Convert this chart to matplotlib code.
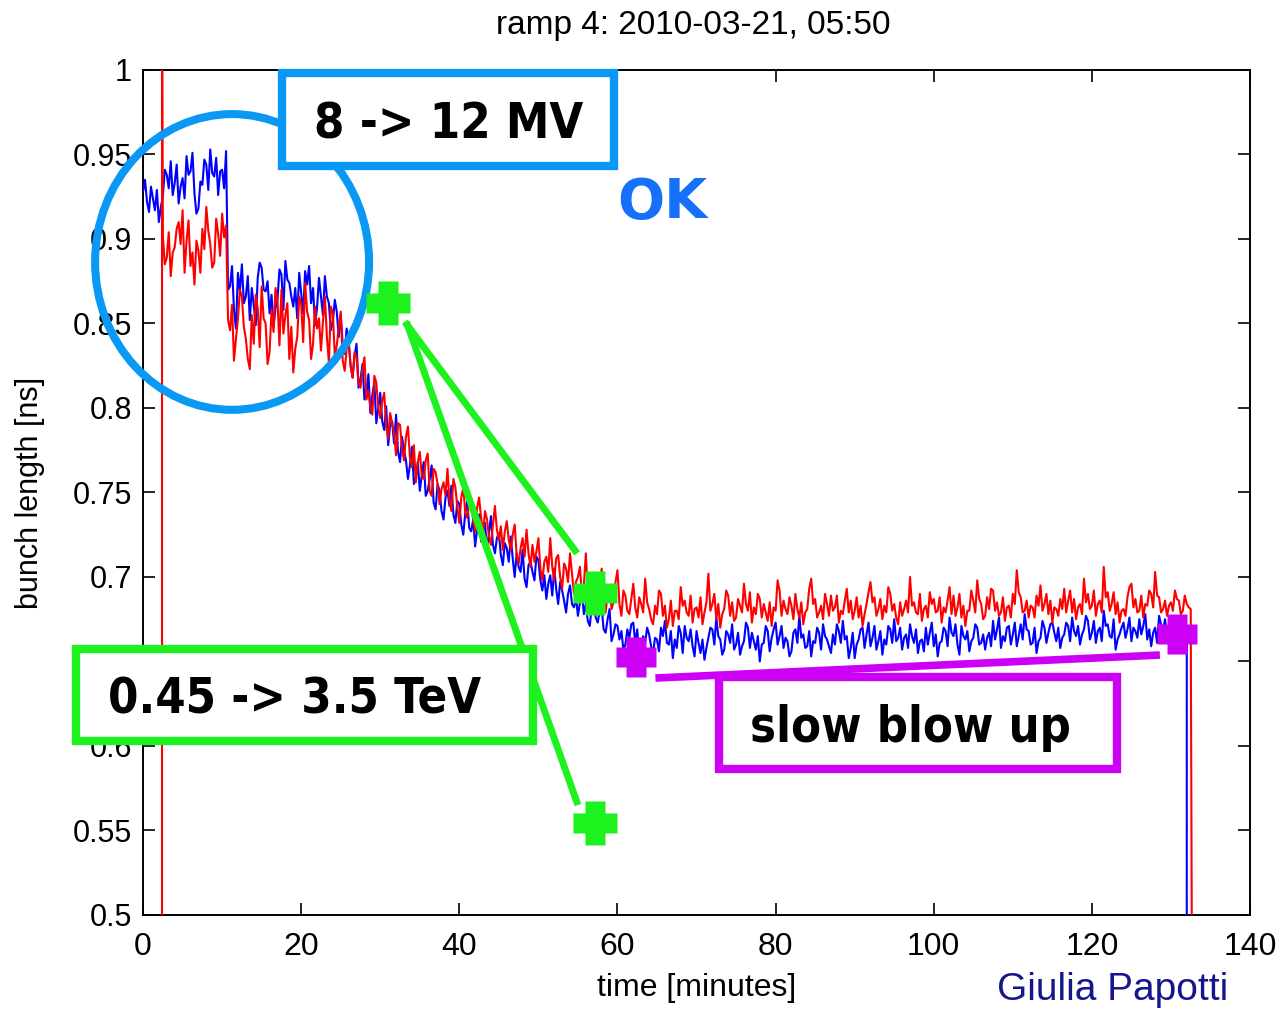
import numpy as np
import matplotlib
matplotlib.use('Agg')
import matplotlib.pyplot as plt
from matplotlib.patches import Ellipse, Rectangle
from matplotlib.path import Path

#---------------------------------------------------------------------
# bunch length during ramp 4, beam 1 (blue) and beam 2 (red)
# one sample every 15 s, 20 samples (5 min) per row
#---------------------------------------------------------------------
dt = 0.25
blue_t0 = 0.0
red_t0 = 2.5

blue_len = [
    0.928, 0.935, 0.922, 0.916, 0.931, 0.924, 0.917, 0.929, 0.910, 0.919, 0.925, 0.941, 0.938, 0.930, 0.946, 0.926, 0.933, 0.944, 0.921, 0.931,
    0.936, 0.924, 0.949, 0.938, 0.940, 0.951, 0.927, 0.915, 0.918, 0.934, 0.932, 0.947, 0.944, 0.929, 0.953, 0.939, 0.937, 0.948, 0.926, 0.940,
    0.941, 0.930, 0.952, 0.870, 0.872, 0.884, 0.858, 0.847, 0.880, 0.869, 0.885, 0.862, 0.866, 0.878, 0.852, 0.871, 0.861, 0.849, 0.877, 0.886,
    0.883, 0.870, 0.869, 0.875, 0.856, 0.867, 0.848, 0.859, 0.864, 0.882, 0.879, 0.858, 0.887, 0.876, 0.874, 0.866, 0.860, 0.871, 0.853, 0.880,
    0.868, 0.856, 0.881, 0.873, 0.884, 0.862, 0.871, 0.849, 0.859, 0.877, 0.866, 0.855, 0.878, 0.866, 0.862, 0.846, 0.851, 0.864, 0.857, 0.842,
    0.855, 0.838, 0.832, 0.847, 0.839, 0.825, 0.818, 0.831, 0.838, 0.812, 0.817, 0.826, 0.805, 0.808, 0.820, 0.797, 0.808, 0.815, 0.791, 0.800,
    0.809, 0.792, 0.787, 0.801, 0.778, 0.790, 0.792, 0.779, 0.796, 0.774, 0.768, 0.783, 0.775, 0.769, 0.758, 0.766, 0.777, 0.755, 0.759, 0.768,
    0.751, 0.760, 0.768, 0.748, 0.751, 0.758, 0.766, 0.744, 0.740, 0.755, 0.751, 0.739, 0.734, 0.747, 0.751, 0.742, 0.754, 0.737, 0.732, 0.745,
    0.743, 0.731, 0.725, 0.738, 0.745, 0.729, 0.727, 0.734, 0.718, 0.728, 0.737, 0.721, 0.727, 0.732, 0.715, 0.726, 0.736, 0.719, 0.714, 0.723,
    0.726, 0.713, 0.707, 0.720, 0.717, 0.709, 0.724, 0.711, 0.700, 0.714, 0.706, 0.703, 0.716, 0.699, 0.694, 0.707, 0.709, 0.703, 0.698, 0.712,
    0.710, 0.698, 0.692, 0.701, 0.687, 0.696, 0.701, 0.689, 0.705, 0.693, 0.684, 0.697, 0.692, 0.686, 0.679, 0.690, 0.695, 0.684, 0.682, 0.688,
    0.677, 0.685, 0.691, 0.678, 0.684, 0.674, 0.671, 0.683, 0.689, 0.676, 0.673, 0.680, 0.682, 0.669, 0.667, 0.675, 0.681, 0.662, 0.666, 0.672,
    0.671, 0.663, 0.668, 0.657, 0.660, 0.669, 0.664, 0.672, 0.673, 0.661, 0.669, 0.654, 0.657, 0.665, 0.661, 0.670, 0.666, 0.659, 0.655, 0.664,
    0.663, 0.656, 0.670, 0.665, 0.674, 0.661, 0.660, 0.668, 0.652, 0.663, 0.658, 0.671, 0.667, 0.655, 0.671, 0.664, 0.662, 0.669, 0.659, 0.653,
    0.668, 0.661, 0.655, 0.663, 0.651, 0.658, 0.664, 0.670, 0.669, 0.660, 0.676, 0.665, 0.663, 0.654, 0.657, 0.668, 0.666, 0.661, 0.672, 0.657,
    0.660, 0.667, 0.654, 0.659, 0.662, 0.673, 0.670, 0.658, 0.667, 0.662, 0.657, 0.665, 0.650, 0.660, 0.661, 0.671, 0.668, 0.656, 0.664, 0.669,
    0.673, 0.660, 0.665, 0.671, 0.658, 0.664, 0.662, 0.653, 0.656, 0.667, 0.669, 0.661, 0.677, 0.664, 0.666, 0.658, 0.659, 0.668, 0.653, 0.662,
    0.661, 0.670, 0.667, 0.657, 0.672, 0.665, 0.663, 0.659, 0.655, 0.666, 0.660, 0.672, 0.668, 0.661, 0.674, 0.663, 0.665, 0.652, 0.658, 0.667,
    0.652, 0.660, 0.663, 0.669, 0.670, 0.658, 0.666, 0.673, 0.659, 0.664, 0.671, 0.657, 0.662, 0.668, 0.654, 0.663, 0.660, 0.671, 0.669, 0.661,
    0.675, 0.662, 0.664, 0.670, 0.657, 0.664, 0.666, 0.658, 0.672, 0.665, 0.661, 0.669, 0.655, 0.662, 0.663, 0.656, 0.670, 0.660, 0.667, 0.673,
    0.659, 0.666, 0.653, 0.661, 0.662, 0.670, 0.668, 0.659, 0.676, 0.667, 0.665, 0.672, 0.660, 0.654, 0.671, 0.665, 0.663, 0.668, 0.656, 0.662,
    0.664, 0.672, 0.670, 0.660, 0.661, 0.666, 0.657, 0.664, 0.667, 0.659, 0.674, 0.663, 0.669, 0.676, 0.658, 0.665, 0.662, 0.670, 0.671, 0.660,
    0.666, 0.673, 0.659, 0.665, 0.672, 0.663, 0.678, 0.669, 0.668, 0.660, 0.661, 0.670, 0.655, 0.662, 0.664, 0.674, 0.670, 0.661, 0.667, 0.672,
    0.673, 0.667, 0.662, 0.670, 0.658, 0.664, 0.666, 0.673, 0.671, 0.662, 0.676, 0.668, 0.665, 0.671, 0.660, 0.666, 0.669, 0.677, 0.674, 0.663,
    0.667, 0.674, 0.661, 0.668, 0.670, 0.662, 0.680, 0.671, 0.672, 0.665, 0.664, 0.675, 0.657, 0.663, 0.666, 0.670, 0.673, 0.664, 0.669, 0.676,
    0.662, 0.670, 0.668, 0.664, 0.675, 0.666, 0.671, 0.678, 0.663, 0.669, 0.659, 0.667, 0.670, 0.661, 0.677, 0.672, 0.668, 0.675, 0.664, 0.660,
    0.671, 0.664, 0.676, 0.667, 0.669, 0.677, 0.673, 0.662, 0.668,
]

red_len = [
    0.902, 0.885, 0.889, 0.904, 0.878, 0.892, 0.895, 0.906, 0.910, 0.897, 0.917, 0.880, 0.899, 0.911, 0.884, 0.892, 0.873, 0.899, 0.893, 0.880,
    0.906, 0.894, 0.919, 0.905, 0.897, 0.883, 0.886, 0.912, 0.903, 0.890, 0.915, 0.901, 0.908, 0.852, 0.846, 0.861, 0.828, 0.841, 0.853, 0.870,
    0.866, 0.848, 0.841, 0.829, 0.823, 0.855, 0.838, 0.867, 0.859, 0.836, 0.872, 0.853, 0.850, 0.826, 0.833, 0.858, 0.845, 0.871, 0.864, 0.837,
    0.870, 0.844, 0.855, 0.862, 0.829, 0.848, 0.821, 0.835, 0.842, 0.866, 0.861, 0.839, 0.874, 0.857, 0.852, 0.829, 0.838, 0.860, 0.847, 0.853,
    0.834, 0.851, 0.866, 0.842, 0.827, 0.860, 0.856, 0.831, 0.837, 0.848, 0.857, 0.828, 0.822, 0.835, 0.840, 0.825, 0.818, 0.833, 0.830, 0.815,
    0.812, 0.823, 0.830, 0.805, 0.810, 0.801, 0.796, 0.819, 0.815, 0.800, 0.794, 0.804, 0.809, 0.789, 0.782, 0.797, 0.791, 0.785, 0.772, 0.791,
    0.790, 0.776, 0.769, 0.783, 0.789, 0.771, 0.765, 0.778, 0.756, 0.768, 0.774, 0.760, 0.758, 0.769, 0.773, 0.751, 0.748, 0.764, 0.762, 0.755,
    0.743, 0.752, 0.756, 0.748, 0.764, 0.745, 0.739, 0.758, 0.753, 0.741, 0.732, 0.747, 0.753, 0.738, 0.735, 0.744, 0.747, 0.733, 0.727, 0.741,
    0.747, 0.735, 0.726, 0.739, 0.734, 0.724, 0.719, 0.731, 0.742, 0.728, 0.722, 0.730, 0.716, 0.727, 0.733, 0.722, 0.716, 0.725, 0.731, 0.713,
    0.708, 0.717, 0.723, 0.712, 0.728, 0.714, 0.706, 0.719, 0.709, 0.715, 0.723, 0.705, 0.698, 0.709, 0.712, 0.703, 0.723, 0.706, 0.698, 0.711,
    0.713, 0.700, 0.693, 0.708, 0.705, 0.697, 0.714, 0.702, 0.690, 0.697, 0.700, 0.706, 0.690, 0.695, 0.714, 0.691, 0.684, 0.697, 0.700, 0.689,
    0.685, 0.693, 0.705, 0.688, 0.679, 0.690, 0.695, 0.681, 0.685, 0.697, 0.704, 0.684, 0.677, 0.692, 0.689, 0.680, 0.678, 0.687, 0.696, 0.682,
    0.676, 0.688, 0.684, 0.679, 0.699, 0.685, 0.681, 0.675, 0.672, 0.683, 0.678, 0.692, 0.690, 0.677, 0.683, 0.670, 0.675, 0.686, 0.671, 0.680,
    0.680, 0.675, 0.694, 0.683, 0.686, 0.679, 0.677, 0.689, 0.673, 0.681, 0.682, 0.676, 0.688, 0.672, 0.679, 0.685, 0.702, 0.680, 0.684, 0.690,
    0.675, 0.684, 0.670, 0.678, 0.681, 0.692, 0.689, 0.677, 0.685, 0.674, 0.676, 0.687, 0.683, 0.679, 0.696, 0.684, 0.680, 0.691, 0.673, 0.682,
    0.678, 0.690, 0.687, 0.676, 0.684, 0.679, 0.674, 0.685, 0.671, 0.682, 0.680, 0.698, 0.692, 0.677, 0.686, 0.681, 0.678, 0.688, 0.683, 0.675,
    0.690, 0.681, 0.676, 0.685, 0.672, 0.679, 0.681, 0.693, 0.699, 0.684, 0.687, 0.676, 0.679, 0.683, 0.675, 0.690, 0.684, 0.677, 0.689, 0.680,
    0.682, 0.689, 0.673, 0.680, 0.678, 0.686, 0.693, 0.679, 0.686, 0.675, 0.680, 0.688, 0.676, 0.683, 0.671, 0.678, 0.684, 0.691, 0.697, 0.685,
    0.688, 0.677, 0.681, 0.687, 0.675, 0.683, 0.679, 0.694, 0.690, 0.680, 0.684, 0.676, 0.672, 0.685, 0.677, 0.681, 0.686, 0.679, 0.700, 0.683,
    0.685, 0.679, 0.678, 0.690, 0.674, 0.681, 0.683, 0.676, 0.691, 0.684, 0.687, 0.679, 0.680, 0.688, 0.673, 0.682, 0.679, 0.686, 0.694, 0.678,
    0.689, 0.677, 0.682, 0.690, 0.676, 0.683, 0.671, 0.680, 0.680, 0.692, 0.686, 0.679, 0.698, 0.687, 0.684, 0.675, 0.677, 0.688, 0.681, 0.693,
    0.692, 0.680, 0.685, 0.677, 0.679, 0.688, 0.674, 0.682, 0.683, 0.676, 0.690, 0.684, 0.704, 0.691, 0.688, 0.679, 0.680, 0.686, 0.676, 0.683,
    0.682, 0.676, 0.689, 0.683, 0.695, 0.680, 0.684, 0.690, 0.678, 0.686, 0.673, 0.682, 0.681, 0.677, 0.687, 0.681, 0.693, 0.679, 0.686, 0.692,
    0.679, 0.687, 0.675, 0.682, 0.684, 0.678, 0.699, 0.685, 0.690, 0.681, 0.683, 0.692, 0.677, 0.684, 0.686, 0.679, 0.706, 0.688, 0.691, 0.680,
    0.684, 0.691, 0.678, 0.685, 0.673, 0.680, 0.681, 0.677, 0.688, 0.694, 0.696, 0.682, 0.687, 0.679, 0.680, 0.689, 0.676, 0.684, 0.683, 0.692,
    0.690, 0.682, 0.703, 0.689, 0.688, 0.679, 0.681, 0.686, 0.677, 0.683, 0.685, 0.680, 0.692, 0.687, 0.686, 0.678, 0.680, 0.689, 0.684, 0.682,
    0.681,
]

# beam 2 logging starts with a spike, both signals drop to zero at the end
red_start_t = 2.4
red_start_len = [0.40, 1.05]
blue_end_t = 132.0
red_end_t = 132.7
end_len = 0.40

# markers on the curves
green_pts_t = [31.0, 57.2, 57.2]
green_pts_len = [0.862, 0.6905, 0.5544]
magenta_pts_t = [62.3, 130.8]
magenta_pts_len = [0.6527, 0.6663]

xticks = [0, 20, 40, 60, 80, 100, 120, 140]
yticks = [0.5, 0.55, 0.6, 0.65, 0.7, 0.75, 0.8, 0.85, 0.9, 0.95, 1.0]
ytick_labels = ['0.5', '0.55', '0.6', '0.65', '0.7', '0.75', '0.8',
                '0.85', '0.9', '0.95', '1']

C_CIRCLE = '#0A98F5'
C_OK = '#1670FA'
C_GREEN = '#1EF21E'
C_MAGENTA = '#CC00F5'

blue_t = blue_t0 + dt * np.arange(len(blue_len))
red_t = red_t0 + dt * np.arange(len(red_len))
blue_t = np.concatenate([blue_t, [blue_end_t]])
blue_y = np.concatenate([blue_len, [end_len]])
red_t = np.concatenate([[red_start_t] * 2, red_t, [red_end_t]])
red_y = np.concatenate([red_start_len, red_len, [end_len]])

plt.rcParams['font.family'] = ['Liberation Sans', 'DejaVu Sans']

fig = plt.figure(figsize=(12.83, 10.10), dpi=100, facecolor='white')
ax = fig.add_axes([0.1115, 0.0941, 0.8628, 0.8366])

ax.plot(blue_t, blue_y, color='#0000FF', lw=1.5, zorder=3)
ax.plot(red_t, red_y, color='#FF0000', lw=1.5, zorder=3.1)

ax.set_xlim(0, 140)
ax.set_ylim(0.5, 1.0)
ax.set_xticks(xticks)
ax.set_yticks(yticks)
ax.set_yticklabels(ytick_labels)
ax.tick_params(direction='in', length=8.5, width=1.2, top=True, right=True,
               labelsize=22, colors='black')
ax.tick_params(axis='x', pad=12, labelsize=23)
ax.tick_params(axis='y', pad=8)
for s in ax.spines.values():
    s.set_linewidth(1.4)

ax.set_xlabel('time [minutes]', fontsize=23, labelpad=8)
ax.set_ylabel('bunch length [ns]', fontsize=22, labelpad=20)
fig.text(0.5405, 0.975, 'ramp 4: 2010-03-21, 05:50', fontsize=24,
         ha='center', va='center')
fig.text(0.957, 0.020, 'Giulia Papotti', fontsize=28, color='#16168C',
         ha='right', va='center')

### annotation overlay
ann = dict(clip_on=False)

ax.add_patch(Ellipse((11.26, 0.8864), 34.65, 0.175, fill=False,
                     ec=C_CIRCLE, lw=5.8, zorder=6, **ann))

a = 0.48
plus = Path([(-a, 1), (a, 1), (a, a), (1, a), (1, -a), (a, -a), (a, -1),
             (-a, -1), (-a, -a), (-1, -a), (-1, a), (-a, a), (-a, 1)])

ax.plot([33.1, 54.9], [0.851, 0.714], color=C_GREEN, lw=5, zorder=6,
        solid_capstyle='butt', **ann)
ax.plot([33.3, 55.0], [0.851, 0.565], color=C_GREEN, lw=5, zorder=6,
        solid_capstyle='butt', **ann)
ax.plot(green_pts_t, green_pts_len, ls='none', marker=plus, ms=31,
        mfc=C_GREEN, mec='none', zorder=7, **ann)

ax.plot([64.8, 128.6], [0.6402, 0.6538], color=C_MAGENTA, lw=5.5,
        zorder=6, solid_capstyle='butt', **ann)
ax.plot(magenta_pts_t, magenta_pts_len, ls='none', marker=plus, ms=29,
        mfc=C_MAGENTA, mec='none', zorder=7, **ann)

def labelbox(x0, x1, y0, y1, color, text, tx, ty):
    ax.add_patch(Rectangle((x0, y0), x1 - x0, y1 - y0, fc='white', ec=color,
                           lw=6, zorder=8, **ann))
    ax.text(tx, ty, text, fontsize=35, fontweight='bold',
            fontstretch='condensed', family='DejaVu Sans',
            ha='center', va='baseline', zorder=9)

labelbox(17.6, 59.6, 0.943, 0.998, C_CIRCLE, '8 -> 12 MV', 38.6, 0.9592)
labelbox(-8.47, 49.3, 0.6030, 0.6574, C_GREEN, '0.45 -> 3.5 TeV', 19.1, 0.6195)
labelbox(72.85, 123.2, 0.5864, 0.6408, C_MAGENTA, 'slow blow up', 97.0, 0.6024)

ax.text(65.7, 0.9124, 'OK', fontsize=40, fontweight='bold',
        family='DejaVu Sans', color=C_OK, ha='center', va='baseline', zorder=9)

plt.savefig('out.png', dpi=100)
